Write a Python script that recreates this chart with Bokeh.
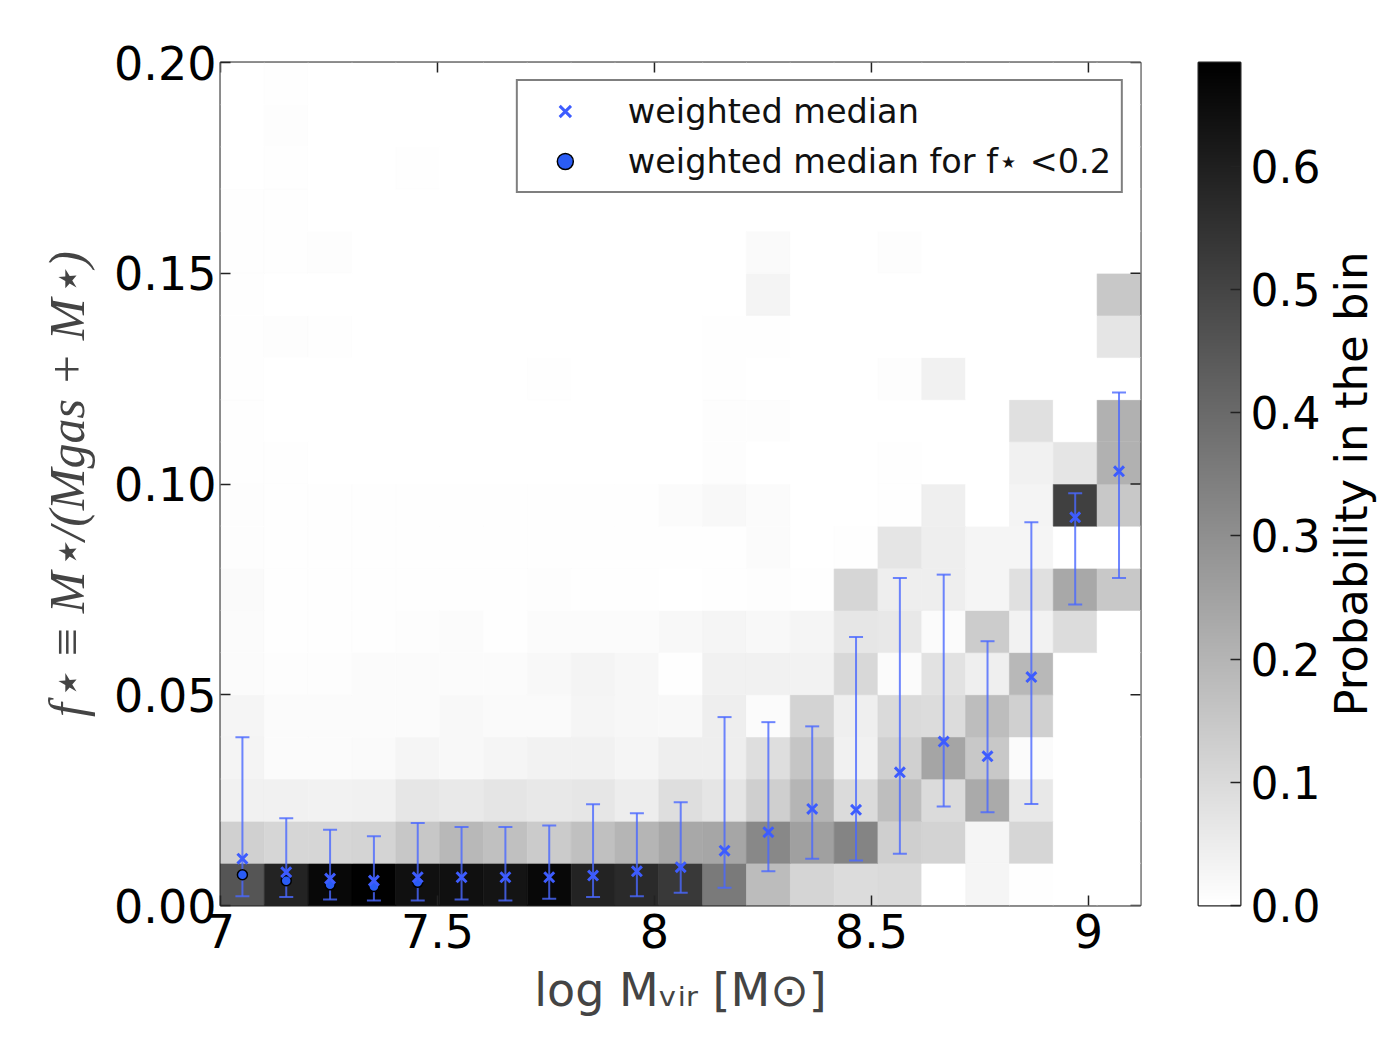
import numpy as np
from bokeh.plotting import figure
from bokeh.models import (ColumnDataSource, LinearColorMapper, Legend, LegendItem,
                          FixedTicker, PrintfTickFormatter, Range1d)
from bokeh.core.properties import value
from bokeh.layouts import row
from bokeh.embed import file_html
from bokeh.resources import INLINE

# ---------------- data ----------------
# log Mvir bins (21 bins starting at 7.0) and f_star bins (20 bins of 0.01)
mvir_start = 7.0
mvir_bin = 0.101
fstar_bin = 0.01
prob_max = 0.684
x_min, x_max = 7.0, 9.12
y_min, y_max = 0.0, 0.2

# probability in bin, one list per f_star row (bottom row first), 21 Mvir columns each
prob_r00 = [0.456, 0.59, 0.66, 0.68, 0.64, 0.64, 0.63, 0.66, 0.59, 0.57, 0.53, 0.357, 0.18, 0.113, 0.094, 0.10, 0.0, 0.027, 0.005, 0.0, 0.0]
prob_r01 = [0.126, 0.11, 0.11, 0.115, 0.15, 0.19, 0.17, 0.14, 0.17, 0.20, 0.233, 0.24, 0.319, 0.255, 0.33, 0.129, 0.12, 0.027, 0.11, 0.0, 0.0]
prob_r02 = [0.04, 0.04, 0.035, 0.04, 0.067, 0.06, 0.072, 0.062, 0.067, 0.05, 0.089, 0.072, 0.129, 0.198, 0.097, 0.174, 0.097, 0.228, 0.062, 0.0, 0.0]
prob_r03 = [0.032, 0.013, 0.013, 0.016, 0.027, 0.019, 0.027, 0.035, 0.04, 0.027, 0.046, 0.046, 0.089, 0.156, 0.04, 0.126, 0.241, 0.147, 0.013, 0.0, 0.0]
prob_r04 = [0.027, 0.013, 0.011, 0.013, 0.013, 0.019, 0.016, 0.016, 0.027, 0.022, 0.019, 0.046, 0.013, 0.12, 0.043, 0.10, 0.094, 0.177, 0.126, 0.0, 0.0]
prob_r05 = [0.013, 0.008, 0.008, 0.011, 0.011, 0.013, 0.013, 0.019, 0.032, 0.022, 0.005, 0.04, 0.04, 0.035, 0.105, 0.013, 0.08, 0.043, 0.19, 0.0, 0.0]
prob_r06 = [0.013, 0.005, 0.005, 0.005, 0.008, 0.011, 0.005, 0.013, 0.013, 0.011, 0.019, 0.027, 0.019, 0.027, 0.067, 0.062, 0.013, 0.137, 0.035, 0.094, 0.0]
prob_r07 = [0.016, 0.005, 0.005, 0.005, 0.005, 0.005, 0.005, 0.008, 0.005, 0.005, 0.0, 0.005, 0.008, 0.005, 0.11, 0.046, 0.046, 0.027, 0.083, 0.233, 0.148]
prob_r08 = [0.008, 0.003, 0.003, 0.003, 0.003, 0.003, 0.003, 0.003, 0.003, 0.003, 0.003, 0.003, 0.013, 0.0, 0.005, 0.072, 0.046, 0.027, 0.027, 0.0, 0.0]
prob_r09 = [0.008, 0.003, 0.003, 0.003, 0.003, 0.003, 0.003, 0.003, 0.003, 0.003, 0.013, 0.019, 0.013, 0.0, 0.0, 0.005, 0.043, 0.0, 0.032, 0.512, 0.148]
prob_r10 = [0.005, 0.003, 0.0, 0.0, 0.0, 0.0, 0.0, 0.0, 0.0, 0.0, 0.0, 0.008, 0.0, 0.0, 0.0, 0.005, 0.0, 0.0, 0.04, 0.072, 0.21]
prob_r11 = [0.005, 0.0, 0.0, 0.0, 0.0, 0.0, 0.0, 0.0, 0.0, 0.0, 0.0, 0.008, 0.008, 0.0, 0.0, 0.0, 0.0, 0.0, 0.083, 0.0, 0.21]
prob_r12 = [0.005, 0.0, 0.0, 0.0, 0.0, 0.0, 0.0, 0.003, 0.0, 0.0, 0.0, 0.005, 0.0, 0.0, 0.0, 0.008, 0.04, 0.0, 0.0, 0.0, 0.0]
prob_r13 = [0.005, 0.008, 0.005, 0.0, 0.0, 0.0, 0.0, 0.0, 0.0, 0.0, 0.0, 0.005, 0.005, 0.0, 0.0, 0.0, 0.0, 0.0, 0.0, 0.0, 0.072]
prob_r14 = [0.005, 0.0, 0.0, 0.0, 0.0, 0.0, 0.0, 0.0, 0.0, 0.0, 0.0, 0.0, 0.03, 0.0, 0.0, 0.0, 0.0, 0.0, 0.0, 0.0, 0.148]
prob_r15 = [0.003, 0.005, 0.008, 0.0, 0.0, 0.0, 0.0, 0.0, 0.0, 0.0, 0.0, 0.0, 0.016, 0.0, 0.0, 0.008, 0.0, 0.0, 0.0, 0.0, 0.0]
prob_r16 = [0.003, 0.005, 0.0, 0.0, 0.0, 0.0, 0.0, 0.0, 0.0, 0.0, 0.0, 0.0, 0.0, 0.0, 0.0, 0.0, 0.0, 0.0, 0.0, 0.0, 0.0]
prob_r17 = [0.0, 0.005, 0.0, 0.0, 0.005, 0.0, 0.0, 0.0, 0.0, 0.0, 0.0, 0.0, 0.0, 0.0, 0.0, 0.0, 0.0, 0.0, 0.0, 0.0, 0.0]
prob_r18 = [0.0, 0.008, 0.0, 0.0, 0.0, 0.0, 0.0, 0.0, 0.0, 0.0, 0.0, 0.0, 0.0, 0.0, 0.0, 0.0, 0.0, 0.0, 0.0, 0.0, 0.0]
prob_r19 = [0.0, 0.003, 0.0, 0.0, 0.0, 0.0, 0.0, 0.0, 0.0, 0.0, 0.0, 0.0, 0.0, 0.0, 0.0, 0.0, 0.0, 0.0, 0.0, 0.0, 0.0]

# weighted median and its error range per Mvir bin
median_all = [0.0111, 0.0079, 0.0064, 0.0059, 0.0067, 0.0067, 0.0067, 0.0067, 0.0071, 0.0081, 0.0091,
              0.013, 0.0174, 0.0229, 0.0227, 0.0316, 0.0389, 0.0354, 0.0542, 0.0921, 0.103]
median_hi = [0.0399, 0.0207, 0.018, 0.0164, 0.0196, 0.0186, 0.0186, 0.019, 0.024, 0.0219, 0.0245,
             0.0447, 0.0435, 0.0425, 0.0637, 0.0777, 0.0785, 0.0627, 0.0909, 0.0978, 0.1217]
median_lo = [0.0022, 0.002, 0.0014, 0.0012, 0.0012, 0.0014, 0.0012, 0.0016, 0.002, 0.0022, 0.003,
             0.0042, 0.0081, 0.0111, 0.0107, 0.0123, 0.0235, 0.0221, 0.0241, 0.0714, 0.0777]
# weighted median for f_star < 0.2 (visible in the first bins)
median_lt02 = [0.0073, 0.0059, 0.0049, 0.0045, 0.0055]

x_ticks = [7, 7.5, 8, 8.5, 9]
y_ticks = [0.0, 0.05, 0.10, 0.15, 0.20]
cb_ticks = [0.0, 0.1, 0.2, 0.3, 0.4, 0.5, 0.6]
cb_title = "Probability in the bin"

rows = [prob_r00, prob_r01, prob_r02, prob_r03, prob_r04, prob_r05, prob_r06, prob_r07, prob_r08, prob_r09,
        prob_r10, prob_r11, prob_r12, prob_r13, prob_r14, prob_r15, prob_r16, prob_r17, prob_r18, prob_r19]
n_cols = len(prob_r00)

# ---------------- build ----------------
palette = ["#%02x%02x%02x" % (v, v, v) for v in range(255, -1, -1)]
mapper = LinearColorMapper(palette=palette, low=0.0, high=prob_max)

left, right, bottom, top, val = [], [], [], [], []
for j, r in enumerate(rows):
    for i, v in enumerate(r):
        left.append(mvir_start + i * mvir_bin)
        right.append(mvir_start + (i + 1) * mvir_bin)
        bottom.append(j * fstar_bin)
        top.append((j + 1) * fstar_bin)
        val.append(v)
heat = ColumnDataSource(dict(left=left, right=right, bottom=bottom, top=top, v=val))

centers = [mvir_start + (i + 0.5) * mvir_bin for i in range(n_cols)]
med_src = ColumnDataSource(dict(x=centers, y=median_all, hi=median_hi, lo=median_lo))
lt_src = ColumnDataSource(dict(x=centers[:len(median_lt02)], y=median_lt02))

FONT = "DejaVu Sans"
blue = "#4a68ff"
frame_col = "#222222"
H = 1030
B_TOP, B_BOTTOM = 62, 125

p = figure(width=1146, height=H, x_range=Range1d(x_min, x_max), y_range=Range1d(y_min, y_max),
           output_backend="svg", toolbar_location=None,
           min_border_left=220, min_border_top=B_TOP, min_border_right=6, min_border_bottom=B_BOTTOM)
p.background_fill_color = "white"
p.border_fill_color = "white"
p.xgrid.visible = False
p.ygrid.visible = False
p.outline_line_color = frame_col
p.outline_line_width = 2

p.quad(left="left", right="right", bottom="bottom", top="top", source=heat,
       fill_color={"field": "v", "transform": mapper},
       line_color={"field": "v", "transform": mapper}, line_width=0.6)

# error bars
p.segment(x0="x", y0="lo", x1="x", y1="hi", source=med_src,
          line_color=blue, line_width=2, line_alpha=0.8)
p.scatter("x", "hi", source=med_src, marker="dash", size=14,
          line_color=blue, line_width=2, line_alpha=0.8)
p.scatter("x", "lo", source=med_src, marker="dash", size=14,
          line_color=blue, line_width=2, line_alpha=0.8)

r_c = p.scatter("x", "y", source=lt_src, marker="circle", size=10,
                fill_color="#2a5cf5", line_color="black", line_width=1.5)
r_x = p.scatter("x", "y", source=med_src, marker="x", size=14,
                line_color="#3d5cff", line_width=3)

# inward tick marks on the top and right frame edges (half of each dash is clipped away)
tick_src_top = ColumnDataSource(dict(x=x_ticks, y=[y_max] * len(x_ticks)))
tick_src_right = ColumnDataSource(dict(x=[x_max] * len(y_ticks), y=y_ticks))
p.scatter("x", "y", source=tick_src_top, marker="dash", angle=np.pi / 2, size=20,
          line_color=frame_col, line_width=1.5)
p.scatter("x", "y", source=tick_src_right, marker="dash", size=20,
          line_color=frame_col, line_width=1.5)

legend = Legend(items=[LegendItem(label="weighted median", renderers=[r_x]),
                       LegendItem(label="weighted median for f\u22c6 <0.2", renderers=[r_c])],
                location="top_right")
legend.margin = 17
legend.padding = 10
legend.spacing = 10
legend.glyph_width = 74
legend.glyph_height = 40
legend.label_standoff = 26
legend.label_text_font = FONT
legend.label_text_font_size = "33.5px"
legend.label_text_color = "#111111"
legend.border_line_color = "black"
legend.border_line_width = 2
legend.background_fill_alpha = 1.0
p.add_layout(legend)

def style_axis(ax):
    ax.major_tick_in = 10
    ax.major_tick_out = 0
    ax.minor_tick_in = 0
    ax.minor_tick_out = 0
    ax.axis_line_color = None
    ax.major_tick_line_color = frame_col
    ax.major_tick_line_width = 1.5
    ax.major_label_text_font = FONT
    ax.major_label_text_color = "black"
    ax.major_label_text_font_size = "46px"

p.xaxis.ticker = FixedTicker(ticks=x_ticks)
p.xaxis.major_label_overrides = {t: ("%g" % t) for t in x_ticks}
p.yaxis.ticker = FixedTicker(ticks=y_ticks)
p.yaxis.formatter = PrintfTickFormatter(format="%.2f")
style_axis(p.xaxis[0])
style_axis(p.yaxis[0])
p.xaxis.major_label_standoff = 8
p.yaxis.major_label_standoff = 4
p.xaxis.axis_label = "log M\u1d65\u1d62\u1d63 [M\u2299]"
p.xaxis.axis_label_text_font = FONT
p.xaxis.axis_label_text_font_style = "normal"
p.xaxis.axis_label_text_font_size = "46px"
p.xaxis.axis_label_standoff = 12
p.yaxis.axis_label = "f\u22c6 \u2261 M\u22c6/(Mgas + M\u22c6)"
p.yaxis.axis_label_text_font = "Liberation Serif"
p.yaxis.axis_label_text_font_style = "italic"
p.yaxis.axis_label_text_font_size = "50px"
p.yaxis.axis_label_standoff = 16

# ---------------- colorbar ----------------
cb = figure(width=177, height=H, x_range=Range1d(0, 1), y_range=Range1d(0, prob_max),
            output_backend="svg", toolbar_location=None, y_axis_location="right",
            min_border_left=52, min_border_top=B_TOP, min_border_bottom=B_BOTTOM, min_border_right=82)
cb.xaxis.visible = False
cb.xgrid.visible = False
cb.ygrid.visible = False
cb.outline_line_color = frame_col
cb.outline_line_width = 2
cb.border_fill_color = "white"
grad = np.linspace(0, prob_max, 256).reshape(-1, 1)
cb.image(image=[grad], x=0, y=0, dw=1, dh=prob_max, color_mapper=mapper)
cb.yaxis.ticker = FixedTicker(ticks=cb_ticks)
cb.yaxis.formatter = PrintfTickFormatter(format="%.1f")
style_axis(cb.yaxis[0])
cb.yaxis.major_label_text_font_size = "44px"
cb.yaxis.major_label_standoff = 10

# colorbar title in its own narrow panel (reads bottom to top)
tl = figure(width=55, height=H, x_range=Range1d(0, 1), y_range=Range1d(0, 1),
            output_backend="svg", toolbar_location=None,
            min_border_left=0, min_border_right=0, min_border_top=B_TOP, min_border_bottom=B_BOTTOM)
tl.axis.visible = False
tl.xgrid.visible = False
tl.ygrid.visible = False
tl.outline_line_color = None
tl.border_fill_color = "white"
tl.text(x=[0.5], y=[0.5], text=[cb_title], angle=np.pi / 2,
        text_align="center", text_baseline="middle",
        text_font=value(FONT), text_font_size="45px", text_color="black")

layout = row(p, cb, tl)
open("out.html", "w").write(file_html(layout, INLINE))
